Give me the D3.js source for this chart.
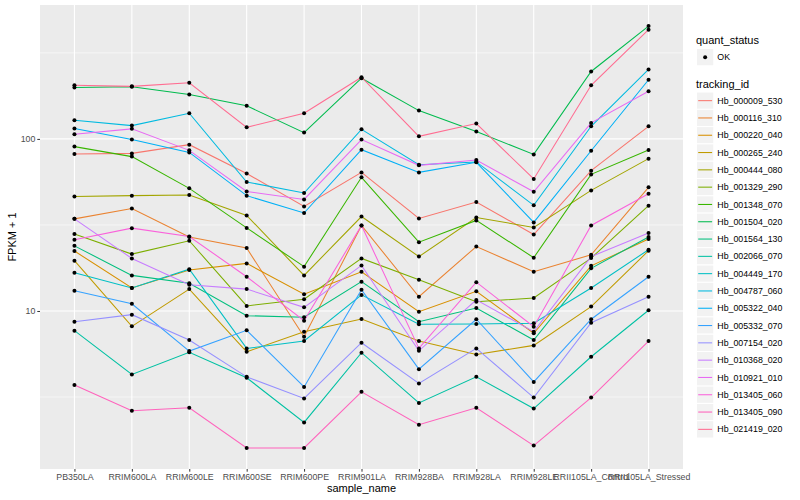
<!DOCTYPE html>
<html>
<head>
<meta charset="utf-8">
<script src="https://cdn.jsdelivr.net/npm/d3@7"></script>
<style>
  body { margin: 0; background: #fff; }
  text { font-family: "Liberation Sans", Arial, Helvetica, sans-serif; }
</style>
</head>
<body>
<div class="canvas"></div>
<script>
// x categories
const samples = ["PB350LA", "RRIM600LA", "RRIM600LE", "RRIM600SE", "RRIM600PE", "RRIM901LA",
  "RRIM928BA", "RRIM928LA", "RRIM928LE", "RRII105LA_Control", "RRII105LA_Stressed"];

// FPKM + 1 per sample, one array per tracking_id
const hb_000009_530 = [81.8, 82.4, 92.6, 63.0, 40.5, 63.9, 34.5, 43.0, 27.8, 65.4, 118.4];
const hb_000116_310 = [34.3, 39.4, 26.9, 23.2, 7.08, 31.4, 12.1, 23.7, 16.9, 21.2, 52.3];
const hb_000220_040 = [22.3, 13.6, 17.3, 18.9, 12.5, 16.9, 9.91, 13.0, 7.42, 18.3, 26.2];
const hb_000265_240 = [19.6, 8.14, 13.4, 5.79, 7.58, 8.98, 6.69, 5.59, 6.31, 10.6, 22.4];
const hb_000444_080 = [46.3, 46.8, 47.2, 35.9, 16.1, 35.4, 20.7, 34.9, 30.6, 50.2, 76.8];
const hb_001329_290 = [28.0, 21.4, 25.6, 10.7, 11.7, 20.2, 15.2, 11.3, 11.9, 20.3, 40.9];
const hb_001348_070 = [90.2, 78.9, 51.6, 30.4, 18.1, 59.8, 25.1, 33.6, 20.4, 62.2, 86.3];
const hb_001504_020 = [199, 201, 181.1, 155.7, 108.8, 225.4, 146.1, 110.3, 81.3, 246.6, 452.6];
const hb_001564_130 = [23.9, 16.1, 14.5, 9.39, 9.19, 14.8, 8.66, 10.4, 6.78, 17.7, 26.9];
const hb_002066_070 = [7.68, 4.28, 5.75, 4.09, 2.25, 5.72, 2.92, 4.14, 2.71, 5.42, 10.1];
const hb_004449_170 = [16.7, 13.6, 17.5, 6.06, 6.69, 12.4, 8.37, 8.40, 8.48, 13.6, 22.7];
const hb_004787_060 = [128.3, 119.5, 141, 56.2, 48.5, 113.7, 70.8, 73.5, 41.1, 118.4, 253.3];
const hb_005322_040 = [114.8, 99.1, 83.5, 46.8, 37.1, 86.6, 63.9, 73.1, 32.7, 85.4, 220.6];
const hb_005332_070 = [13.1, 11.0, 5.85, 7.72, 3.62, 13.3, 4.59, 8.95, 3.87, 8.95, 15.8];
const hb_007154_020 = [8.66, 9.52, 6.78, 4.14, 3.10, 6.54, 3.79, 6.06, 3.14, 8.55, 12.1];
const hb_010368_020 = [34.3, 20.2, 14.2, 13.4, 10.5, 18.4, 5.87, 11.6, 7.58, 20.7, 28.4];
const hb_010921_010 = [106.4, 114.4, 85.8, 49.5, 44.5, 99.1, 70.2, 75.4, 49.3, 123.9, 189.3];
const hb_013405_060 = [25.9, 30.3, 27.1, 15.8, 8.78, 31.4, 6.06, 14.7, 8.10, 31.4, 48.0];
const hb_013405_090 = [3.71, 2.63, 2.74, 1.60, 1.60, 3.39, 2.18, 2.74, 1.65, 3.14, 6.69];
const hb_021419_020 = [205, 202, 212, 116.8, 141, 228.4, 103.5, 122.8, 58.5, 205, 431];

const trackingIds = ["Hb_000009_530", "Hb_000116_310", "Hb_000220_040", "Hb_000265_240",
  "Hb_000444_080", "Hb_001329_290", "Hb_001348_070", "Hb_001504_020", "Hb_001564_130",
  "Hb_002066_070", "Hb_004449_170", "Hb_004787_060", "Hb_005322_040", "Hb_005332_070",
  "Hb_007154_020", "Hb_010368_020", "Hb_010921_010", "Hb_013405_060", "Hb_013405_090",
  "Hb_021419_020"];
const seriesValues = [hb_000009_530, hb_000116_310, hb_000220_040, hb_000265_240,
  hb_000444_080, hb_001329_290, hb_001348_070, hb_001504_020, hb_001564_130,
  hb_002066_070, hb_004449_170, hb_004787_060, hb_005322_040, hb_005332_070,
  hb_007154_020, hb_010368_020, hb_010921_010, hb_013405_060, hb_013405_090,
  hb_021419_020];

const yTicks = [10, 100];
const yMinor = [Math.pow(10, 0.5), Math.pow(10, 1.5), Math.pow(10, 2.5)];
const quantStatus = ["OK"];

// ggplot hue palette, 20 levels
const hues = ["#F8766D", "#EA8331", "#D89000", "#C09B00", "#A3A500", "#7CAE00", "#39B600",
  "#00BB4E", "#00BF7D", "#00C1A3", "#00BFC4", "#00BAE0", "#00B0F6", "#35A2FF", "#9590FF",
  "#C77CFF", "#E76BF3", "#FA62DB", "#FF62BC", "#FF6C91"];

const series = trackingIds.map((id, i) => ({
  id: id,
  color: hues[i],
  points: samples.map((s, j) => ({ sample: s, value: seriesValues[i][j] }))
}));

const W = 800, H = 500;
const panel = { left: 40, right: 683, top: 5, bottom: 469 };

const svg = d3.select(".canvas").append("svg")
  .attr("width", W)
  .attr("height", H);

// scales
const x = d3.scalePoint()
  .domain(samples)
  .range([panel.left, panel.right])
  .padding(0.6);

const allVals = seriesValues.flat();
const lo = Math.log10(d3.min(allVals)), hi = Math.log10(d3.max(allVals));
const pad = (hi - lo) * 0.05;
const y = d3.scaleLog()
  .domain([Math.pow(10, lo - pad), Math.pow(10, hi + pad)])
  .range([panel.bottom, panel.top]);

// panel background + grid
svg.append("rect")
  .attr("x", panel.left)
  .attr("y", panel.top)
  .attr("width", panel.right - panel.left)
  .attr("height", panel.bottom - panel.top)
  .attr("fill", "#EBEBEB");

const grid = svg.append("g");
grid.selectAll(".minor").data(yMinor).join("line")
  .attr("x1", panel.left).attr("x2", panel.right)
  .attr("y1", d => y(d)).attr("y2", d => y(d))
  .attr("stroke", "#fff").attr("stroke-width", 0.55);
grid.selectAll(".major-y").data(yTicks).join("line")
  .attr("x1", panel.left).attr("x2", panel.right)
  .attr("y1", d => y(d)).attr("y2", d => y(d))
  .attr("stroke", "#fff").attr("stroke-width", 1.1);
grid.selectAll(".major-x").data(samples).join("line")
  .attr("x1", d => x(d)).attr("x2", d => x(d))
  .attr("y1", panel.top).attr("y2", panel.bottom)
  .attr("stroke", "#fff").attr("stroke-width", 1.1);

// lines
const line = d3.line()
  .x(d => x(d.sample))
  .y(d => y(d.value));

svg.append("g").selectAll("path").data(series).join("path")
  .attr("d", d => line(d.points))
  .attr("fill", "none")
  .attr("stroke", d => d.color)
  .attr("stroke-width", 1.05);

// points
svg.append("g").selectAll("circle").data(series.flatMap(d => d.points)).join("circle")
  .attr("cx", d => x(d.sample))
  .attr("cy", d => y(d.value))
  .attr("r", 2)
  .attr("fill", "#000");

// axes
const xAxis = svg.append("g")
  .attr("transform", `translate(0,${panel.bottom})`)
  .call(d3.axisBottom(x).tickSize(2.7).tickPadding(2));
const yAxis = svg.append("g")
  .attr("transform", `translate(${panel.left},0)`)
  .call(d3.axisLeft(y).tickValues(yTicks).tickFormat(d3.format("d")).tickSize(2.7).tickPadding(2));

[xAxis, yAxis].forEach(a => {
  a.select(".domain").remove();
  a.selectAll(".tick line").attr("stroke", "#333").attr("stroke-width", 1);
  a.selectAll(".tick text")
    .attr("fill", "#4D4D4D")
    .style("font-size", "8.8px")
    .style("font-family", "'Liberation Sans', Arial, sans-serif");
});

// axis titles
svg.append("text")
  .attr("x", (panel.left + panel.right) / 2)
  .attr("y", 492)
  .attr("text-anchor", "middle")
  .style("font-size", "11px")
  .text("sample_name");

svg.append("text")
  .attr("transform", `translate(16,${(panel.top + panel.bottom) / 2}) rotate(-90)`)
  .attr("text-anchor", "middle")
  .style("font-size", "11px")
  .text("FPKM + 1");

// legend
const lg = svg.append("g");
const keySize = 17.3, keyX = 696.5;

lg.append("text")
  .attr("x", 696).attr("y", 44)
  .style("font-size", "11px")
  .text("quant_status");

const qs = lg.selectAll(".qs").data(quantStatus).join("g")
  .attr("transform", (d, i) => `translate(${keyX},${48.5 + i * keySize})`);
qs.append("rect")
  .attr("width", keySize).attr("height", keySize)
  .attr("fill", "#F2F2F2").attr("stroke", "#fff");
qs.append("circle")
  .attr("cx", keySize / 2).attr("cy", keySize / 2).attr("r", 2)
  .attr("fill", "#000");
qs.append("text")
  .attr("x", keySize + 3.5).attr("y", keySize / 2)
  .attr("dy", "0.35em")
  .style("font-size", "8.8px")
  .text(d => d);

lg.append("text")
  .attr("x", 696).attr("y", 88)
  .style("font-size", "11px")
  .text("tracking_id");

const items = lg.selectAll(".tid").data(series).join("g")
  .attr("transform", (d, i) => `translate(${keyX},${92 + i * keySize})`);
items.append("rect")
  .attr("width", keySize).attr("height", keySize)
  .attr("fill", "#F2F2F2").attr("stroke", "#fff");
items.append("line")
  .attr("x1", 1.7).attr("x2", keySize - 1.7)
  .attr("y1", keySize / 2).attr("y2", keySize / 2)
  .attr("stroke", d => d.color)
  .attr("stroke-width", 1.05);
items.append("text")
  .attr("x", keySize + 3.5).attr("y", keySize / 2)
  .attr("dy", "0.35em")
  .style("font-size", "8.8px")
  .text(d => d.id);
</script>
</body>
</html>
